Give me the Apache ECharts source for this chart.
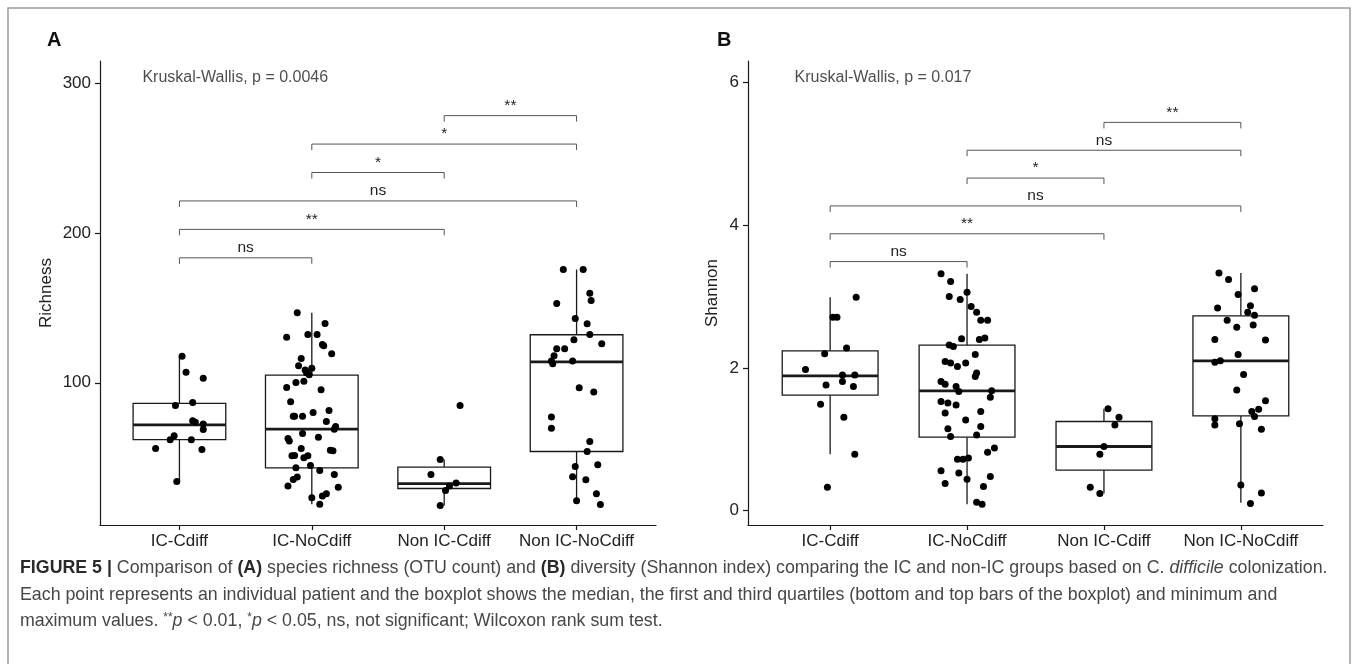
<!DOCTYPE html>
<html>
<head>
<meta charset="utf-8">
<script src="https://cdn.jsdelivr.net/npm/echarts@6/dist/echarts.min.js"></script>
<style>
  html, body { margin: 0; padding: 0; background: #fff; }
  #main { width: 1357px; height: 664px; }
</style>
</head>
<body>
<div id="main"></div>
<script>
// groups on the x axis
const groups = ['IC-Cdiff', 'IC-NoCdiff', 'Non IC-Cdiff', 'Non IC-NoCdiff'];

// panel A - richness, jittered points per group: [x jitter, value]
const richIcCdiff = [[0.02,117.8],[0.05,107.1],[0.18,103.1],[-0.03,84.9],[0.10,86.9],[0.10,74.6],[0.12,73.7],[0.18,72.4],[0.18,68.8],[-0.04,64.6],[-0.07,61.9],[0.09,61.9],[-0.18,56.1],[0.17,55.5],[-0.02,34.1]];
const richIcNoCdiff = [[-0.11,146.8],[0.10,139.6],[-0.19,130.5],[-0.03,132.3],[0.04,132.3],[0.08,125.6],[0.09,124.7],[0.15,119.4],[-0.08,116.3],[-0.10,111.4],[0.00,109.8],[-0.05,108.5],[-0.04,106.7],[-0.02,105.3],[-0.12,100.2],[-0.06,101.1],[-0.19,96.9],[0.07,95.3],[-0.16,87.3],[-0.14,77.7],[-0.13,77.7],[-0.07,77.7],[0.01,80.2],[0.13,81.5],[0.11,74.2],[0.18,70.8],[0.17,69.0],[-0.07,66.1],[-0.18,62.8],[-0.17,61.2],[0.05,63.7],[-0.08,56.1],[0.14,55.0],[0.16,54.6],[-0.15,51.2],[-0.13,51.4],[-0.06,49.9],[-0.03,51.2],[-0.12,43.2],[-0.01,44.8],[0.06,41.4],[0.17,38.8],[-0.11,37.0],[-0.14,35.4],[-0.18,31.0],[0.20,30.3],[0.00,23.2],[0.08,24.3],[0.11,25.8],[0.06,18.9]];
const richNonIcCdiff = [[0.12,84.9],[-0.03,48.8],[-0.10,38.8],[0.09,33.0],[0.04,31.0],[0.01,28.1],[-0.03,18.0]];
const richNonIcNoCdiff = [[-0.10,175.7],[0.05,175.7],[0.10,159.9],[0.11,155.0],[-0.15,153.0],[-0.01,143.0],[0.08,139.4],[0.10,132.3],[-0.02,128.7],[0.19,126.1],[-0.15,122.7],[-0.09,122.7],[-0.17,118.0],[-0.19,114.5],[-0.18,112.7],[-0.03,114.5],[0.02,96.7],[0.13,93.8],[-0.19,77.1],[-0.19,69.7],[0.10,60.8],[0.08,54.1],[-0.01,44.1],[0.16,45.2],[-0.03,37.2],[0.07,35.2],[0.15,25.8],[0.00,21.2],[0.18,18.7]];
// box stats [whisker low, Q1, median, Q3, whisker high]
const richBox = [[34.1,62.1,71.9,86.2,117.8],[18.9,43.2,69.0,105.1,146.8],[18.0,29.4,32.7,43.7,48.8],[21.2,54.1,114.0,132.1,175.7]];

// panel B - shannon
const shanIcCdiff = [[0.19,2.99],[0.02,2.71],[0.05,2.71],[0.12,2.28],[-0.04,2.20],[-0.18,1.98],[0.09,1.90],[0.18,1.90],[-0.03,1.76],[0.09,1.81],[0.17,1.74],[-0.07,1.49],[0.10,1.31],[0.18,0.79],[-0.02,0.33]];
const shanIcNoCdiff = [[-0.19,3.32],[-0.12,3.21],[-0.13,3.00],[-0.05,2.96],[0.00,3.06],[0.03,2.86],[0.07,2.78],[0.10,2.67],[0.15,2.67],[-0.04,2.41],[0.09,2.40],[0.13,2.42],[-0.13,2.32],[-0.10,2.30],[0.06,2.19],[-0.16,2.09],[-0.12,2.07],[-0.07,2.02],[-0.01,2.07],[0.07,1.93],[0.06,1.88],[-0.19,1.81],[-0.16,1.77],[-0.08,1.74],[-0.06,1.67],[0.18,1.68],[0.17,1.59],[-0.19,1.53],[-0.14,1.51],[-0.08,1.48],[-0.16,1.37],[0.10,1.39],[-0.01,1.27],[0.10,1.18],[-0.14,1.15],[-0.12,1.04],[0.07,1.06],[0.20,0.88],[0.15,0.82],[-0.07,0.72],[-0.03,0.72],[0.01,0.74],[-0.19,0.56],[-0.06,0.53],[0.00,0.44],[0.17,0.48],[-0.16,0.38],[0.12,0.34],[0.07,0.12],[0.11,0.09]];
const shanNonIcCdiff = [[0.03,1.43],[0.11,1.31],[0.08,1.20],[0.00,0.90],[-0.03,0.79],[-0.10,0.33],[-0.03,0.24]];
const shanNonIcNoCdiff = [[-0.16,3.33],[-0.09,3.24],[-0.02,3.03],[0.10,3.11],[0.07,2.87],[-0.17,2.84],[0.05,2.78],[0.10,2.74],[-0.10,2.67],[-0.03,2.57],[0.09,2.60],[-0.19,2.40],[0.18,2.39],[-0.02,2.19],[-0.19,2.08],[-0.15,2.10],[0.02,1.91],[-0.03,1.69],[0.18,1.54],[0.08,1.39],[0.13,1.42],[0.10,1.32],[-0.19,1.29],[-0.19,1.20],[-0.01,1.22],[0.15,1.14],[0.00,0.36],[0.15,0.25],[0.07,0.10]];
const shanBox = [[0.79,1.62,1.89,2.24,2.99],[0.09,1.03,1.68,2.32,3.32],[0.24,0.57,0.90,1.25,1.43],[0.11,1.33,2.10,2.73,3.33]];

// pairwise comparisons (Wilcoxon)
const pairs = [[1,2],[1,3],[1,4],[2,3],[2,4],[3,4]];
const sigA = ['ns','**','ns','*','*','**'];
const bracketYA = [183.5,202.5,221.5,240.5,259.5,278.5];
const sigB = ['ns','**','ns','*','ns','**'];
const bracketYB = [3.49,3.88,4.27,4.66,5.05,5.44];

// Kruskal-Wallis labels
const kwText = ['Kruskal-Wallis, p = 0.0046', 'Kruskal-Wallis, p = 0.017'];
const kwPos = [[0.72, 303.6], [0.74, 6.07]];

// y ticks
const ticksA = [100, 200, 300];
const ticksB = [0, 2, 4, 6];

const FONT = '"Liberation Sans", Arial, sans-serif';
const INK = '#1a1a1a';
const CAP = 17.8;

function toPoints(list) {
  return list.flatMap((pts, gi) => pts.map(p => [gi + 1 + p[0], p[1]]));
}

// box without whisker caps (ggplot style)
function renderBox(params, api) {
  const x = api.value(0);
  const lo = api.coord([x, api.value(1)]);
  const q1 = api.coord([x - 0.35, api.value(2)]);
  const med = api.coord([x, api.value(3)]);
  const q3 = api.coord([x + 0.35, api.value(4)]);
  const hi = api.coord([x, api.value(5)]);
  const st = { stroke: INK, lineWidth: 1.3, fill: null };
  return {
    type: 'group',
    children: [
      { type: 'line', shape: { x1: lo[0], y1: lo[1], x2: lo[0], y2: q1[1] }, style: st },
      { type: 'line', shape: { x1: hi[0], y1: q3[1], x2: hi[0], y2: hi[1] }, style: st },
      { type: 'rect', shape: { x: q1[0], y: q3[1], width: q3[0] - q1[0], height: q1[1] - q3[1] },
        style: { stroke: INK, lineWidth: 1.3, fill: '#fff' } },
      { type: 'line', shape: { x1: q1[0], y1: med[1], x2: q3[0], y2: med[1] }, style: { stroke: INK, lineWidth: 2.8 } }
    ]
  };
}

function bracketRenderer(labels) {
  return function (params, api) {
    const a = api.coord([api.value(0), api.value(2)]);
    const b = api.coord([api.value(1), api.value(2)]);
    const tip = 6;
    return {
      type: 'group',
      children: [
        { type: 'polyline', shape: { points: [[a[0], a[1] + tip], [a[0], a[1]], [b[0], b[1]], [b[0], b[1] + tip]] },
          style: { stroke: '#555', lineWidth: 1, fill: null } },
        { type: 'text', x: (a[0] + b[0]) / 2, y: a[1] - 2,
          style: { text: labels[params.dataIndex], fontSize: 15.5, fontFamily: FONT, fill: '#222', align: 'center', verticalAlign: 'bottom' } }
      ]
    };
  };
}

function yAxis(idx, min, max, ticks, name, gap) {
  return {
    type: 'value', gridIndex: idx, min: min, max: max,
    name: name, nameLocation: 'middle', nameGap: gap,
    nameTextStyle: { fontSize: 17, color: '#222', fontFamily: FONT },
    axisLine: { show: true, onZero: false, lineStyle: { color: INK, width: 1.2 } },
    axisTick: { show: true, length: 5, lineStyle: { color: INK, width: 1.2 }, customValues: ticks },
    axisLabel: { fontSize: 17, color: '#222', margin: 9, fontFamily: FONT, customValues: ticks },
    splitLine: { show: false }
  };
}

function xAxis(idx) {
  return {
    type: 'value', gridIndex: idx, min: 0.4, max: 4.6,
    axisLine: { show: true, onZero: false, lineStyle: { color: INK, width: 1.2 } },
    axisTick: { show: true, length: 5, lineStyle: { color: INK, width: 1.2 }, customValues: [1, 2, 3, 4] },
    axisLabel: { fontSize: 17, color: '#222', margin: 8, fontFamily: FONT, customValues: [1, 2, 3, 4],
      formatter: v => groups[Math.round(v) - 1] },
    splitLine: { show: false }
  };
}

function panelSeries(idx, pts, box, ys, sig, kwi) {
  return [
    { type: 'custom', xAxisIndex: idx, yAxisIndex: idx, silent: true, renderItem: renderBox,
      encode: { x: 0, y: [1, 2, 3, 4, 5] },
      data: box.map((s, i) => [i + 1].concat(s)) },
    { type: 'scatter', xAxisIndex: idx, yAxisIndex: idx, silent: true, symbolSize: 7,
      itemStyle: { color: '#000', opacity: 1 }, data: toPoints(pts) },
    { type: 'custom', xAxisIndex: idx, yAxisIndex: idx, silent: true, renderItem: bracketRenderer(sig),
      encode: { x: [0, 1], y: 2 },
      data: pairs.map((p, i) => [p[0], p[1], ys[i]]) },
    { type: 'scatter', xAxisIndex: idx, yAxisIndex: idx, silent: true, symbolSize: 0.1,
      itemStyle: { color: 'rgba(0,0,0,0)' },
      label: { show: true, position: 'right', distance: 0, formatter: kwText[kwi], fontSize: 16, color: '#222', fontFamily: FONT },
      data: [kwPos[kwi]] }
  ];
}

const chart = echarts.init(document.getElementById('main'));

const option = {
  animation: false,
  textStyle: { fontFamily: FONT },
  grid: [
    { left: 100, width: 556, top: 61, height: 464 },
    { left: 748, width: 575, top: 61, height: 464 }
  ],
  xAxis: [xAxis(0), xAxis(1)],
  yAxis: [
    yAxis(0, 5, 315, ticksA, 'Richness', 45),
    yAxis(1, -0.2, 6.3, ticksB, 'Shannon', 27)
  ],
  series: [].concat(
    panelSeries(0, [richIcCdiff, richIcNoCdiff, richNonIcCdiff, richNonIcNoCdiff], richBox, bracketYA, sigA, 0),
    panelSeries(1, [shanIcCdiff, shanIcNoCdiff, shanNonIcCdiff, shanNonIcNoCdiff], shanBox, bracketYB, sigB, 1)
  ),
  graphic: [
    { type: 'rect', silent: true, shape: { x: 8, y: 8, width: 1342, height: 700 },
      style: { fill: null, stroke: '#9c9c9c', lineWidth: 1.5 } },
    { type: 'text', x: 47, y: 40, style: { text: 'A', font: 'bold 20px ' + FONT, fill: '#111', verticalAlign: 'middle' } },
    { type: 'text', x: 717, y: 40, style: { text: 'B', font: 'bold 20px ' + FONT, fill: '#111', verticalAlign: 'middle' } },
    { type: 'text', x: 20, y: 568, style: {
        text: '{b|FIGURE 5 |} Comparison of {b|(A)} species richness (OTU count) and {b|(B)} diversity (Shannon index) comparing the IC and non-IC groups based on {n|C.} {i|difficile} colonization.',
        fontSize: CAP, fontFamily: FONT, fill: '#474747', verticalAlign: 'middle',
        rich: {
          b: { fontWeight: 'bold', fontSize: CAP, fill: '#2a2a2a', fontFamily: FONT },
          i: { fontStyle: 'italic', fontSize: CAP, fill: '#474747', fontFamily: FONT },
          n: { fontSize: CAP, fill: '#474747', fontFamily: FONT }
        } } },
    { type: 'text', x: 20, y: 595, style: {
        text: 'Each point represents an individual patient and the boxplot shows the median, the first and third quartiles (bottom and top bars of the boxplot) and minimum and',
        fontSize: CAP, fontFamily: FONT, fill: '#474747', verticalAlign: 'middle' } },
    { type: 'text', x: 20, y: 621, style: {
        text: 'maximum values. {s|**}{i|p} < 0.01, {s|*}{i|p} < 0.05, ns, not significant; Wilcoxon rank sum test.',
        fontSize: CAP, fontFamily: FONT, fill: '#474747', verticalAlign: 'middle',
        rich: {
          i: { fontStyle: 'italic', fontSize: CAP, fill: '#474747', fontFamily: FONT },
          s: { fontSize: 12, fill: '#474747', fontFamily: FONT, verticalAlign: 'top', padding: [0, 0, 7, 0] }
        } } }
  ]
};

chart.setOption(option);
</script>
</body>
</html>
